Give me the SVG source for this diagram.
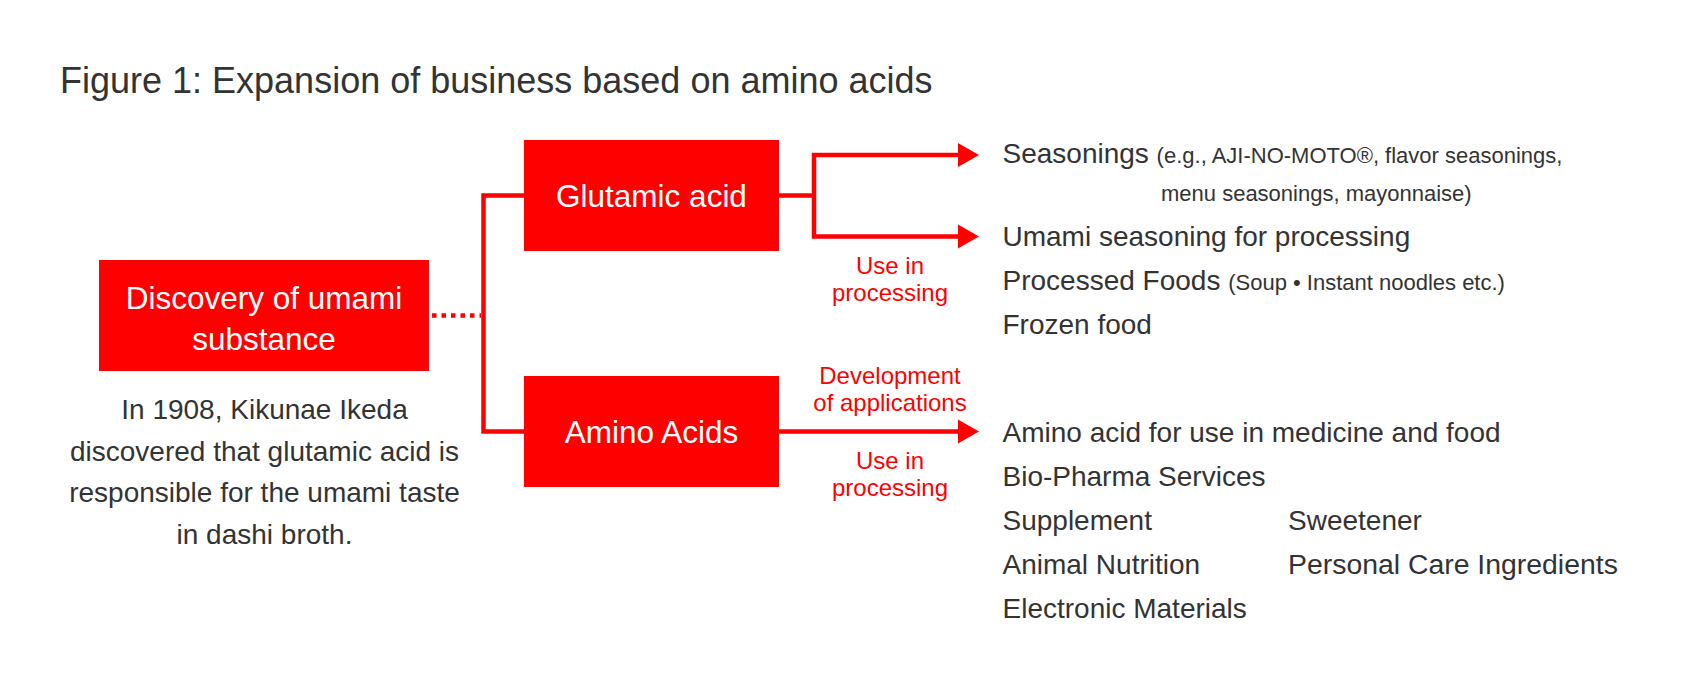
<svg xmlns="http://www.w3.org/2000/svg" width="1696" height="681" viewBox="0 0 1696 681">
<style>
  text { font-family: "Liberation Sans", Arial, sans-serif; }
  .title { font-size: 36px; fill: #333333; }
  .box { fill: #ff0000; }
  .boxtxt { font-size: 31.5px; fill: #ffffff; text-anchor: middle; }
  .body { font-size: 28px; fill: #333333; }
  .small { font-size: 22px; }
  .desc { font-size: 28px; fill: #333333; text-anchor: middle; }
  .lbl { font-size: 24px; fill: #ff0000; text-anchor: middle; }
  .conn { fill: none; stroke: #ff0000; stroke-width: 4.5; }
  .head { fill: #ff0000; }
</style>
<rect width="1696" height="681" fill="#ffffff"/>
<text class="title" x="60" y="93">Figure 1: Expansion of business based on amino acids</text>

<g id="connectors">
  <line class="conn" x1="432" y1="315.5" x2="481" y2="315.5" stroke-dasharray="4.5 5"/>
  <path class="conn" d="M524 195.5 H483.5 V431.5 H524"/>
  <path class="conn" d="M779 195.5 H814"/>
  <path class="conn" d="M959 155 H814 V236.5 H959"/>
  <polygon class="head" points="958,143 979,155 958,167"/>
  <polygon class="head" points="958,224.5 979,236.5 958,248.5"/>
  <path class="conn" d="M779 431.5 H959"/>
  <polygon class="head" points="958,419.5 979,431.5 958,443.5"/>
</g>

<g id="node-discovery">
  <rect class="box" x="99" y="260" width="330" height="111"/>
  <text class="boxtxt" x="264" y="309">Discovery of umami</text>
  <text class="boxtxt" x="264" y="350">substance</text>
</g>

<g id="node-discovery-desc">
  <text class="desc" x="264.5" y="419">In 1908, Kikunae Ikeda</text>
  <text class="desc" x="264.5" y="460.5">discovered that glutamic acid is</text>
  <text class="desc" x="264.5" y="502">responsible for the umami taste</text>
  <text class="desc" x="264.5" y="543.5">in dashi broth.</text>
</g>

<g id="node-glutamic">
  <rect class="box" x="524" y="140" width="255" height="111"/>
  <text class="boxtxt" x="651.5" y="207">Glutamic acid</text>
</g>

<g id="node-amino">
  <rect class="box" x="524" y="376" width="255" height="111"/>
  <text class="boxtxt" x="651.5" y="443">Amino Acids</text>
</g>

<g id="labels">
  <text class="lbl" x="890" y="274">Use in</text>
  <text class="lbl" x="890" y="301">processing</text>
  <text class="lbl" x="890" y="384">Development</text>
  <text class="lbl" x="890" y="411">of applications</text>
  <text class="lbl" x="890" y="469">Use in</text>
  <text class="lbl" x="890" y="496">processing</text>
</g>

<g id="node-glutamic-uses">
  <text class="body" x="1002.5" y="163">Seasonings <tspan class="small">(e.g., AJI-NO-MOTO®, flavor seasonings,</tspan></text>
  <text class="body small" x="1161" y="201">menu seasonings, mayonnaise)</text>
  <text class="body" x="1002.5" y="246">Umami seasoning for processing</text>
  <text class="body" x="1002.5" y="290">Processed Foods <tspan class="small">(Soup • Instant noodles etc.)</tspan></text>
  <text class="body" x="1002.5" y="334">Frozen food</text>
</g>

<g id="node-amino-uses">
  <text class="body" x="1002.5" y="442">Amino acid for use in medicine and food</text>
  <text class="body" x="1002.5" y="486">Bio-Pharma Services</text>
  <text class="body" x="1002.5" y="530">Supplement</text>
  <text class="body" x="1288" y="530">Sweetener</text>
  <text class="body" x="1002.5" y="574">Animal Nutrition</text>
  <text class="body" x="1288" y="574" style="font-size:28.4px">Personal Care Ingredients</text>
  <text class="body" x="1002.5" y="618">Electronic Materials</text>
</g>
</svg>
